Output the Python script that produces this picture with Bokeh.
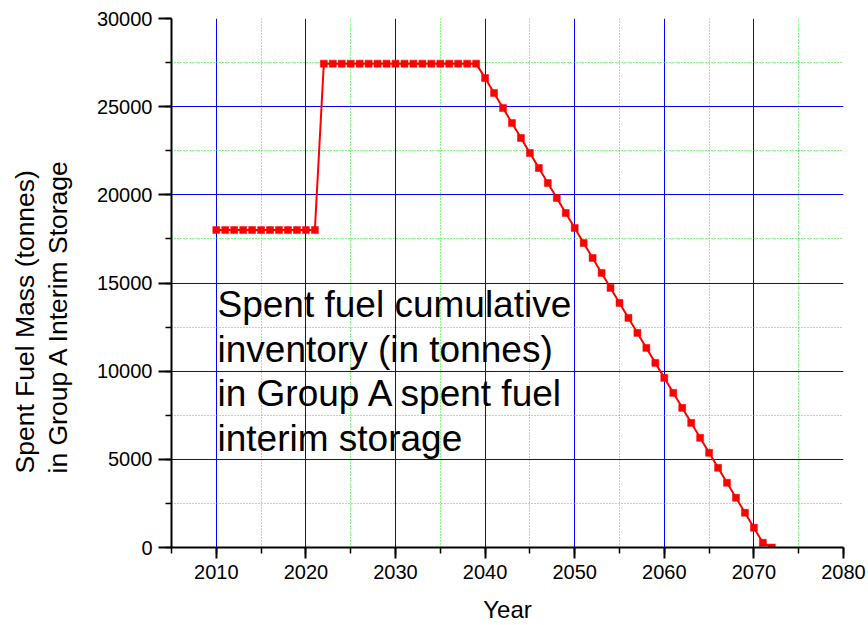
from bokeh.plotting import figure
from bokeh.models import Range1d, SingleIntervalTicker, FixedTicker, Label, Title
from bokeh.embed import file_html
from bokeh.resources import INLINE

# ---- data ----
years = [2010, 2011, 2012, 2013, 2014, 2015, 2016, 2017, 2018, 2019, 2020, 2021,
         2022, 2023, 2024, 2025, 2026, 2027, 2028, 2029, 2030, 2031, 2032, 2033,
         2034, 2035, 2036, 2037, 2038, 2039,
         2040, 2041, 2042, 2043, 2044, 2045, 2046, 2047, 2048, 2049, 2050, 2051,
         2052, 2053, 2054, 2055, 2056, 2057, 2058, 2059, 2060, 2061, 2062, 2063,
         2064, 2065, 2066, 2067, 2068, 2069, 2070, 2071, 2072]
mass = [18000, 18000, 18000, 18000, 18000, 18000, 18000, 18000, 18000, 18000, 18000, 18000,
        27440, 27440, 27440, 27440, 27440, 27440, 27440, 27440, 27440, 27440, 27440, 27440,
        27440, 27440, 27440, 27440, 27440, 27440,
        26620, 25770, 24920, 24070, 23220, 22370, 21520, 20670, 19820, 18970, 18120, 17270,
        16420, 15570, 14720, 13870, 13020, 12170, 11320, 10470, 9620, 8770, 7920, 7070,
        6220, 5370, 4520, 3670, 2820, 1970, 1120, 270, 0]

x_grid_major = [2010, 2020, 2030, 2040, 2050, 2060, 2070]
x_grid_minor = [2015, 2025, 2035, 2045, 2055, 2065, 2075]
y_grid_major = [5000, 10000, 15000, 20000, 25000]
y_grid_minor = [2500, 7500, 12500, 17500, 22500, 27500]

x_title = "Year"
y_title_lines = ["Spent Fuel Mass (tonnes)", "in Group A Interim Storage"]
note_lines = ["Spent fuel cumulative", "inventory (in tonnes)",
              "in Group A spent fuel", "interim storage"]

FONT = "Liberation Sans"

p = figure(width=868, height=625, output_backend="svg", toolbar_location=None,
           x_range=Range1d(2005, 2080), y_range=Range1d(0, 30000),
           min_border_left=171, min_border_right=25, min_border_top=18,
           min_border_bottom=78)
p.outline_line_color = None
p.background_fill_color = "white"
p.border_fill_color = "white"

# axes
for ax, interval in ((p.xaxis[0], 10), (p.yaxis[0], 5000)):
    ax.ticker = SingleIntervalTicker(interval=interval, num_minor_ticks=2)
    ax.axis_line_color = "black"
    ax.axis_line_width = 2
    ax.major_tick_line_color = "black"
    ax.major_tick_line_width = 2
    ax.minor_tick_line_color = "black"
    ax.minor_tick_line_width = 1.5
    ax.major_tick_in = 0
    ax.minor_tick_in = 0
    ax.major_tick_out = 11
    ax.minor_tick_out = 6
    ax.major_label_text_font = FONT
    ax.major_label_text_font_size = "20px"
    ax.major_label_text_color = "black"
    ax.major_label_standoff = 6
p.yaxis[0].major_tick_out = 13

p.xaxis[0].axis_label = x_title
p.xaxis[0].axis_label_text_font = FONT
p.xaxis[0].axis_label_text_font_size = "24px"
p.xaxis[0].axis_label_text_font_style = "normal"
p.xaxis[0].axis_label_text_color = "black"
p.xaxis[0].axis_label_standoff = 14

# grids
p.xgrid.ticker = FixedTicker(ticks=x_grid_major, minor_ticks=x_grid_minor)
p.ygrid.ticker = FixedTicker(ticks=y_grid_major, minor_ticks=y_grid_minor)
for g in (p.xgrid[0], p.ygrid[0]):
    g.grid_line_color = "#0000ff"
    g.grid_line_width = 1
    g.grid_line_alpha = 1
    g.minor_grid_line_color = "#00ff00"
    g.minor_grid_line_width = 1
    g.minor_grid_line_dash = "1 2"

# data
p.line(years, mass, line_color="#ff0000", line_width=2)
p.scatter(years, mass, marker="square", size=7, fill_color="#ff0000",
          line_color="#ff0000", line_width=0.5)

# annotation text inside plot
note_baselines = [243, 198, 154, 109]
for txt, yb in zip(note_lines, note_baselines):
    p.add_layout(Label(x=46, y=yb, x_units="screen", y_units="screen", text=txt,
                       text_font=FONT, text_font_size="37px", text_color="black",
                       text_align="left", text_baseline="alphabetic"))

# y axis title (two lines, left aligned, as side titles); a thin blank title spaces them
p.add_layout(Title(text=" ", text_font_size="1px", standoff=17), "left")
for txt, so in ((y_title_lines[1], 2), (y_title_lines[0], 0)):
    p.add_layout(Title(text=txt, align="left", offset=74, standoff=so,
                       text_font=FONT, text_font_size="26.5px",
                       text_font_style="normal", text_color="black"), "left")

open("out.html", "w").write(file_html(p, INLINE))
